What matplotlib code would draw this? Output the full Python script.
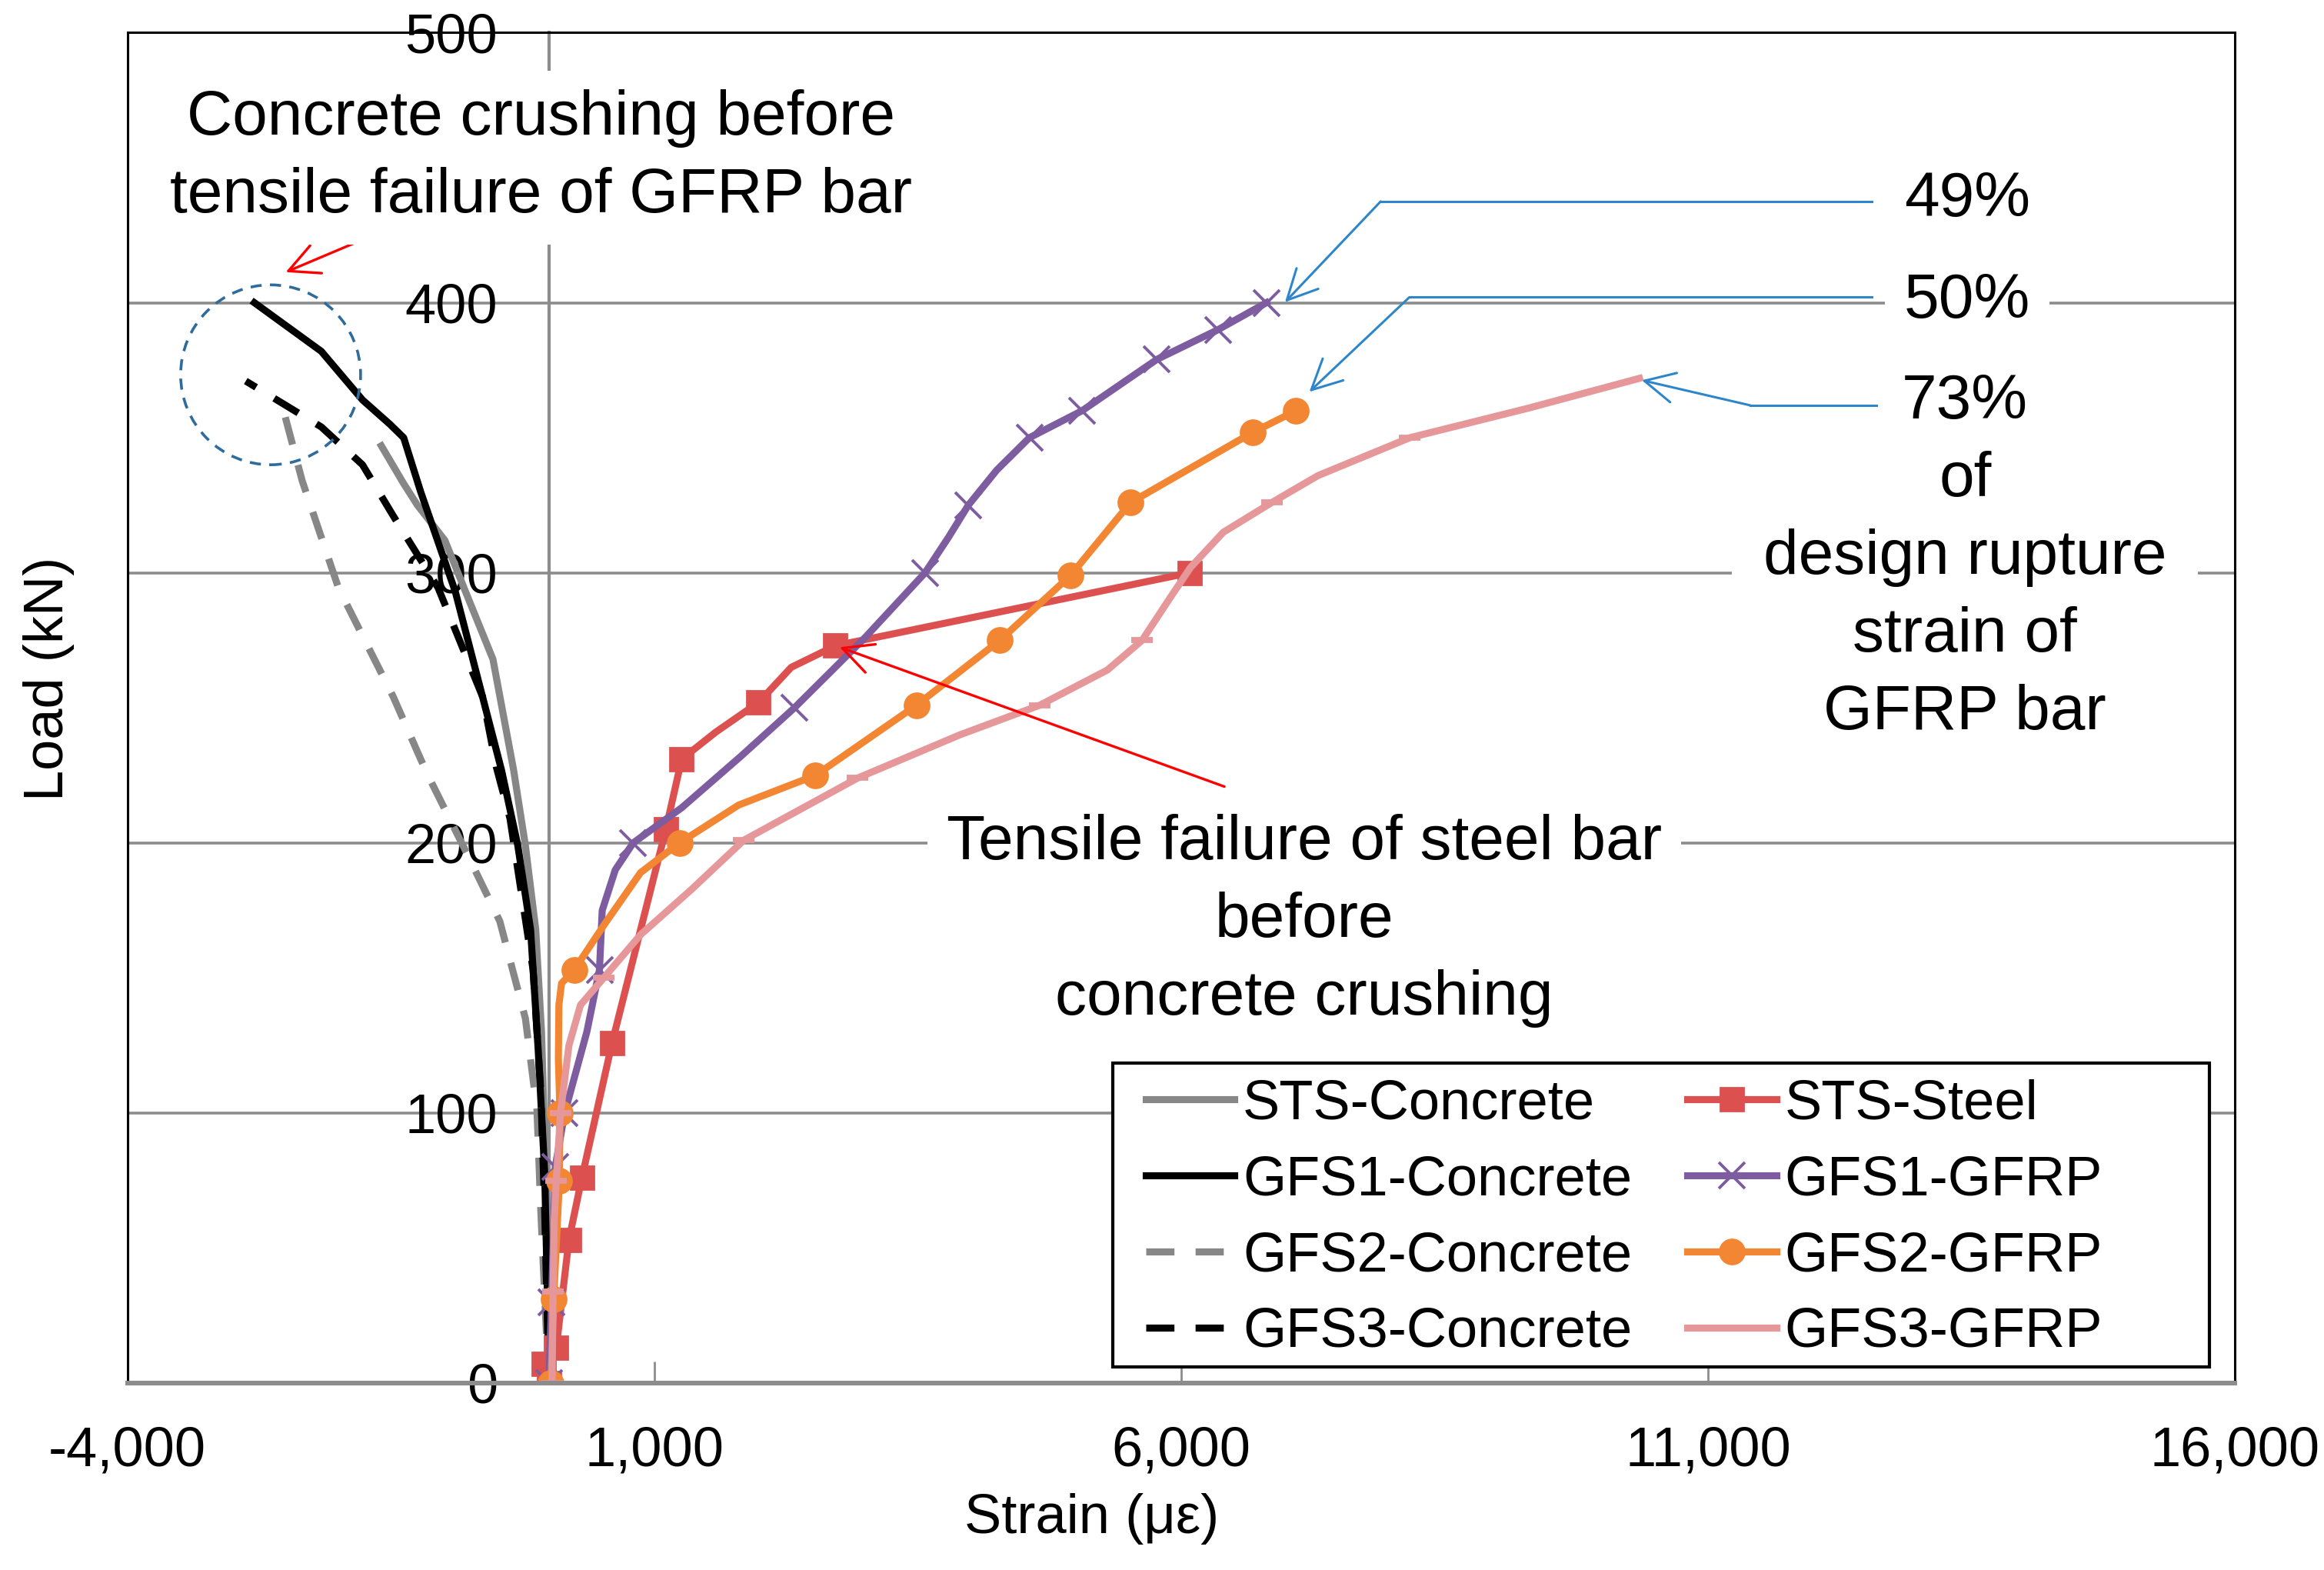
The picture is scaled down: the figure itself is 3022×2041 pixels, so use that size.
import matplotlib
matplotlib.use("Agg")
import matplotlib.pyplot as plt
from matplotlib.patches import Ellipse, Rectangle

plt.rcParams['font.family'] = ['Liberation Sans', 'DejaVu Sans']

# --- data (strain in microstrain, load in kN) ---
sts_conc_x = [0, -15, -40, -70, -125, -223, -335, -531, -791, -987, -1247, -1378, -1590]
sts_conc_y = [0, 40, 90, 130, 168, 199, 227, 268, 293, 312, 325, 333, 347]

gfs1_conc_x = [0, -15, -40, -101, -174, -295, -450, -888, -1217, -1378, -1509, -1769, -2160, -2795]
gfs1_conc_y = [0, 34, 78, 123, 168, 199, 227, 293, 330, 350, 355, 364, 382, 400]

gfs2_conc_x = [0, -28, -77, -113, -223, -466, -758, -1122, -1217, -1476, -1998, -2341, -2518]
gfs2_conc_y = [0, 22, 64, 101, 135, 171, 194.5, 223, 231, 254, 294.5, 334, 360]

gfs3_conc_x = [0, -40, -77, -150, -369, -498, -628, -1052, -1476, -1769, -2160, -2877]
gfs3_conc_y = [0, 64, 108, 153, 209, 228, 254, 294.5, 321, 340, 354, 371]

sts_steel_x = [0, -50, 70, 190, 313, 600, 1110, 1260, 1583, 1990, 2300, 2720, 6080]
sts_steel_y = [0, 7, 13, 53, 76, 126, 205, 231, 241, 252, 265, 273, 300]
sts_steel_mk = [0, 1, 2, 3, 4, 5, 6, 7, 9, 11, 12]

gfs1_frp_x = [0, 25, 60, 150, 360, 480, 506, 630, 800, 1260, 1820, 2330, 3000, 3570,
              3790, 3980, 4250, 4560, 5060, 5770, 6350, 6810]
gfs1_frp_y = [0, 30, 80, 100, 130, 153, 175, 190, 200, 213, 232, 250, 276, 300,
              313, 325, 338, 350, 360, 379, 390, 400]
gfs1_frp_mk = [0, 1, 2, 3, 5, 8, 11, 13, 15, 17, 18, 19, 20, 21]

gfs2_frp_x = [20, 45, 100, 105, 90, 95, 120, 240, 530, 870, 1240, 1800, 2530, 3490,
              4280, 4950, 5520, 6680, 7090]
gfs2_frp_y = [0, 31, 75, 100, 120, 140, 148, 153, 170, 189, 200, 214, 225, 251,
              275, 299, 326, 352, 360]
gfs2_frp_mk = [0, 1, 2, 3, 7, 10, 12, 13, 14, 15, 16, 17, 18]

gfs3_frp_x = [30, 40, 50, 70, 110, 190, 300, 520, 870, 1360, 1850, 2930, 3900, 4660,
              5300, 5630, 5900, 6090, 6400, 6860, 7300, 8170, 9300, 10350]
gfs3_frp_y = [0, 34, 60, 75, 100, 125, 140, 150, 166, 183, 201, 224, 240, 251,
              264, 275, 291, 302, 315, 326, 336, 350, 361, 372]
gfs3_frp_mk = [0, 1, 3, 4, 7, 10, 11, 13, 15, 19, 21]

x_ticks = [-4000, 1000, 6000, 11000, 16000]
y_ticks = [0, 100, 200, 300, 400, 500]

fig = plt.figure(figsize=(15.11, 10.205), dpi=200)
ax = fig.add_axes([0.05483, 0.11906, 0.90678, 0.86017])

grey = '#878787'
red = '#DD5050'
purple = '#7D5DA0'
orange = '#F38633'
pink = '#E6979A'
blue = '#2E86CA'

lw = 3.3
ax.plot(sts_conc_x, sts_conc_y, color=grey, lw=lw, label='STS-Concrete')
ax.plot(gfs1_conc_x, gfs1_conc_y, color='black', lw=lw, label='GFS1-Concrete')
ax.plot(gfs2_conc_x, gfs2_conc_y, color=grey, lw=lw, dashes=(4, 3), label='GFS2-Concrete')
ax.plot(gfs3_conc_x, gfs3_conc_y, color='black', lw=lw, dashes=(4, 3), label='GFS3-Concrete')
ax.plot(sts_steel_x, sts_steel_y, color=red, lw=lw, marker='s', ms=11,
        markevery=sts_steel_mk, label='STS-Steel')
ax.plot(gfs1_frp_x, gfs1_frp_y, color=purple, lw=lw, marker='x', ms=12, mew=1.4,
        markevery=gfs1_frp_mk, label='GFS1-GFRP')
ax.plot(gfs2_frp_x, gfs2_frp_y, color=orange, lw=lw, marker='o', ms=11.5,
        markevery=gfs2_frp_mk, label='GFS2-GFRP')
ax.plot(gfs3_frp_x, gfs3_frp_y, color=pink, lw=lw, marker='_', ms=10, mew=2.8,
        markevery=gfs3_frp_mk, label='GFS3-GFRP')

ax.set_xlim(-4000, 16000)
ax.set_ylim(0, 500)
ax.set_xticks(x_ticks)
ax.set_xticklabels(['{:,}'.format(v) for v in x_ticks])
ax.set_yticks(y_ticks)
ax.yaxis.grid(True, color='#8c8c8c', lw=1.3)
ax.set_axisbelow(True)

# y axis drawn through x = 0, plot frame in black
ax.spines['left'].set_position(('data', 0))
ax.spines['left'].set_color('#8c8c8c')
ax.spines['left'].set_linewidth(1.5)
ax.spines['left'].set_zorder(0.8)
ax.spines['bottom'].set_color('#8c8c8c')
ax.spines['bottom'].set_linewidth(2.2)
for s in ['top', 'right']:
    ax.spines[s].set_color('black')
    ax.spines[s].set_linewidth(1.1)
ax.plot([0, 0], [0, 1], transform=ax.transAxes, color='black', lw=1.1, clip_on=False)

ax.tick_params(axis='x', direction='in', length=10, width=1, color='#8c8c8c',
               labelsize=26, pad=20)
ax.tick_params(axis='y', length=0, labelsize=26, pad=24)

ax.set_xlabel('Strain (με)', fontsize=26, va='center')
ax.xaxis.set_label_coords(0.4577, -0.1008)
ax.set_ylabel('Load (kN)', fontsize=26, va='center')
ax.yaxis.set_label_coords(-0.0373, 0.5214)

# legend: box drawn separately so it can be wider than its entries
ax.add_patch(Rectangle((0.4676, 0.012), 0.5204, 0.225, transform=ax.transAxes,
                       fc='white', ec='black', lw=1.5, zorder=4))
leg = ax.legend(ncol=2, loc='upper left', bbox_to_anchor=(0.4831, 0.2252), borderaxespad=0,
                borderpad=0, fontsize=26, handlelength=1.6, handletextpad=0.15,
                columnspacing=1.0, labelspacing=0.44, numpoints=1, frameon=False)
leg.set_zorder(5)

# annotations
box = dict(boxstyle='square,pad=0.3', fc='white', ec='none')
ax.text(-78, 453.8, 'Concrete crushing before\ntensile failure of GFRP bar', fontsize=29.5,
        ha='center', va='center', linespacing=1.42, bbox=box, zorder=4)
ax.add_patch(Ellipse((-2641, 373.3), 1708, 66.6, fill=False, ec='#2F6C9C', lw=1.3,
                     ls=(0, (4, 3)), zorder=4))
ax.annotate('', xy=(-2535, 410.7), xytext=(-1801, 422.8),
            arrowprops=dict(arrowstyle='->', color='red', lw=1.2, mutation_scale=35))

ax.text(7168, 171.2, 'Tensile failure of steel bar\nbefore\nconcrete crushing', fontsize=29.5,
        ha='center', va='center', linespacing=1.42, bbox=box, zorder=4)
ax.annotate('', xy=(2721, 273), xytext=(6449, 220.3),
            arrowprops=dict(arrowstyle='->', color='red', lw=1.2, mutation_scale=35))

ax.text(13461, 438, '49%', fontsize=29.5, ha='center', va='center', bbox=box, zorder=4)
ax.text(13461, 400.5, '50%', fontsize=29.5, ha='center', va='center', bbox=box, zorder=4)
ax.text(13440, 305.6, '73%\nof\ndesign rupture\nstrain of\nGFRP bar', fontsize=29.5,
        ha='center', va='center', linespacing=1.42,
        bbox=dict(boxstyle='square,pad=0.5', fc='white', ec='none'), zorder=4)

callouts = [((12553, 437.5), (7894, 437.5), (6986, 400.2)),
            ((12553, 402), (8166, 402), (7217, 367)),
            ((12598, 362), (11401, 362), (10372, 371.3))]
for start, bend, tip in callouts:
    ax.plot([start[0], bend[0]], [start[1], bend[1]], color=blue, lw=1.1, zorder=5)
    ax.annotate('', xy=tip, xytext=bend,
                arrowprops=dict(arrowstyle='->', color=blue, lw=1.1, mutation_scale=35,
                                shrinkA=0, shrinkB=0), zorder=5)

fig.savefig('out.png', dpi=200)
